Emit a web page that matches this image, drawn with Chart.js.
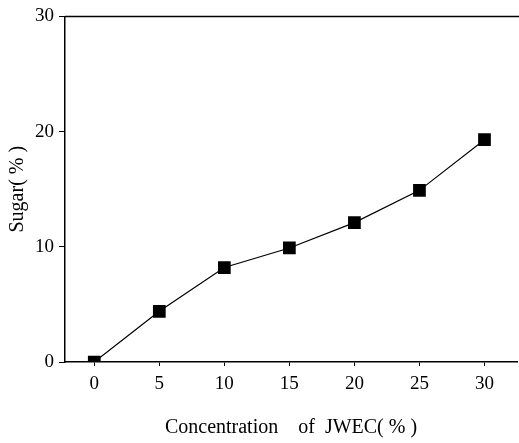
<!DOCTYPE html>
<html>
<head>
<meta charset="utf-8">
<script src="https://cdn.jsdelivr.net/npm/chart.js@4/dist/chart.umd.min.js"></script>
<style>
  html, body { margin: 0; padding: 0; background: #fff; }
  #wrap { width: 519px; height: 443px; }
</style>
</head>
<body>
<div id="wrap"><canvas id="graphSugar"></canvas></div>
<script>
// Données
const concentrations = [0, 5, 10, 15, 20, 25, 30];
const sugar = [0, 4.4, 8.2, 9.9, 12.1, 14.9, 19.3];
const xTicks = [0, 5, 10, 15, 20, 25, 30];
const yTicks = [0, 10, 20, 30];

const serif = 'Liberation Serif';

// Bordure du haut du cadre
const topBorder = {
  id: 'topBorder',
  afterDraw(chart) {
    const { ctx, chartArea } = chart;
    ctx.save();
    ctx.strokeStyle = '#000';
    ctx.lineWidth = 1.5;
    ctx.beginPath();
    ctx.moveTo(chartArea.left, chartArea.top);
    ctx.lineTo(chart.width, chartArea.top);
    ctx.stroke();
    ctx.restore();
  }
};

const chartSugar = new Chart(document.getElementById('graphSugar').getContext('2d'), {
  type: 'line',
  data: {
    datasets: [{
      label: 'Sugar',
      data: concentrations.map((c, i) => ({ x: c, y: sugar[i] })),
      borderColor: '#000',
      borderWidth: 1.2,
      backgroundColor: '#000',
      pointStyle: 'rect',
      pointRadius: 9,
      pointBorderWidth: 0,
      tension: 0
    }]
  },
  options: {
    responsive: true,
    maintainAspectRatio: false,
    animation: false,
    layout: { autoPadding: false, padding: { top: 15, right: 2, left: 0, bottom: 0 } },
    scales: {
      x: {
        type: 'linear',
        min: -2.25,
        max: 32.5,
        afterBuildTicks: s => { s.ticks = xTicks.map(v => ({ value: v })); },
        afterFit: s => { s.height = 81; },
        grid: { drawOnChartArea: false, tickLength: 4, color: '#000', lineWidth: 1 },
        border: { color: '#000', width: 1.5 },
        ticks: { color: '#000', padding: 7, maxRotation: 0, font: { family: serif, size: 19 } },
        title: { display: true, text: 'Concentration    of  JWEC( % )', color: '#000', padding: { top: 0, bottom: 3 }, font: { family: serif, size: 20 } }
      },
      y: {
        min: 0,
        max: 30,
        afterBuildTicks: s => { s.ticks = yTicks.map(v => ({ value: v })); },
        afterFit: s => { s.width = 65; },
        grid: { drawOnChartArea: false, tickLength: 6, color: '#000', lineWidth: 1 },
        border: { color: '#000', width: 1.5 },
        ticks: { color: '#000', padding: 5, font: { family: serif, size: 19 } },
        title: { display: true, text: 'Sugar( % )', color: '#000', padding: { top: 6, bottom: 0 }, font: { family: serif, size: 20 } }
      }
    },
    plugins: {
      legend: { display: false },
      tooltip: { enabled: false }
    }
  },
  plugins: [topBorder]
});
</script>
</body>
</html>
